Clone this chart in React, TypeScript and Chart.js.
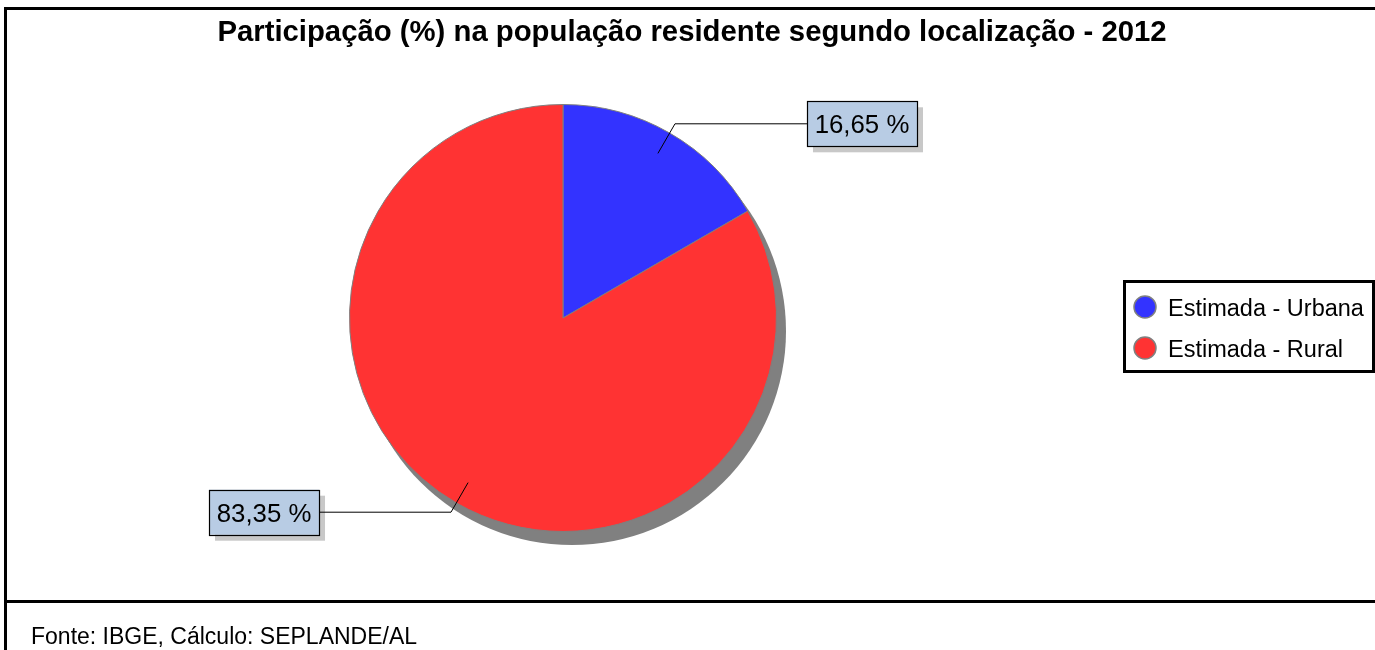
import React, { useEffect, useRef } from 'react';
import { Chart, registerables } from 'chart.js';

Chart.register(...registerables);

const TITLE = 'Participação (%) na população residente segundo localização - 2012';
const FOOTER = 'Fonte: IBGE, Cálculo: SEPLANDE/AL';
const categories = ['Estimada - Urbana', 'Estimada - Rural'];
const shares = [16.65, 83.35];
const valueLabels = ['16,65 %', '83,35 %'];
const sliceColors = ['#3333ff', '#ff3333'];

const W = 1375;
const H = 650;
const FONT = '"Liberation Sans", Arial, sans-serif';

const framePlugin = {
  id: 'frame',
  beforeDraw(chart: any) {
    const ctx = chart.ctx;
    ctx.save();
    ctx.fillStyle = '#ffffff';
    ctx.fillRect(0, 0, W, H);
    ctx.strokeStyle = '#000000';
    ctx.lineWidth = 3;
    ctx.beginPath();
    ctx.moveTo(4, 8.5);
    ctx.lineTo(W, 8.5);
    ctx.moveTo(5.5, 7);
    ctx.lineTo(5.5, H);
    ctx.moveTo(4, 601.5);
    ctx.lineTo(W, 601.5);
    ctx.stroke();

    ctx.fillStyle = '#000000';
    ctx.font = `bold 29.3px ${FONT}`;
    ctx.textAlign = 'center';
    ctx.textBaseline = 'alphabetic';
    ctx.fillText(TITLE, 692, 41);

    ctx.font = `23px ${FONT}`;
    ctx.textAlign = 'left';
    ctx.fillText(FOOTER, 31, 644);
    ctx.restore();
  },
};

const shadowPlugin = {
  id: 'pieShadow',
  beforeDatasetsDraw(chart: any) {
    const meta = chart.getDatasetMeta(0);
    const arc = meta.data[0];
    if (!arc) return;
    const ctx = chart.ctx;
    ctx.save();
    ctx.fillStyle = '#808080';
    ctx.beginPath();
    ctx.arc(arc.x + 9, arc.y + 13, arc.outerRadius + 0.5, 0, Math.PI * 2);
    ctx.fill();
    ctx.restore();
  },
};

const labelPlugin = {
  id: 'sliceLabels',
  afterDatasetsDraw(chart: any) {
    const meta = chart.getDatasetMeta(0);
    const ctx = chart.ctx;
    ctx.save();
    meta.data.forEach((arc: any, i: number) => {
      const mid = (arc.startAngle + arc.endAngle) / 2;
      const r = arc.outerRadius;
      const cx = arc.x;
      const cy = arc.y;
      const c = Math.cos(mid);
      const s = Math.sin(mid);
      const p1x = cx + c * r * 0.89;
      const p1y = cy + s * r * 0.89;
      const p2x = cx + c * r * 1.05;
      const p2y = cy + s * r * 1.05;
      const side = c >= 0 ? 1 : -1;
      const p3x = p2x + side * 132;
      const p3y = p2y;

      const bw = 110;
      const bh = 45;
      const bx = side > 0 ? p3x : p3x - bw;
      const by = p3y - bh / 2;
      ctx.fillStyle = '#c8c8c8';
      ctx.fillRect(bx + 6, by + 6, bw, bh);

      ctx.strokeStyle = '#000000';
      ctx.lineWidth = 1;
      ctx.beginPath();
      ctx.moveTo(p1x, p1y);
      ctx.lineTo(p2x, p2y);
      ctx.lineTo(p3x, p3y);
      ctx.stroke();

      ctx.fillStyle = '#b8cce4';
      ctx.fillRect(bx, by, bw, bh);
      ctx.strokeStyle = '#000000';
      ctx.lineWidth = 1.2;
      ctx.strokeRect(Math.round(bx) + 0.5, Math.round(by) + 0.5, bw, bh);

      ctx.fillStyle = '#000000';
      ctx.font = `25.8px ${FONT}`;
      ctx.textAlign = 'center';
      ctx.textBaseline = 'alphabetic';
      ctx.fillText(valueLabels[i], bx + bw / 2, by + bh / 2 + 9.5);
    });
    ctx.restore();
  },
};

const legendPlugin = {
  id: 'customLegend',
  afterDraw(chart: any) {
    const ctx = chart.ctx;
    ctx.save();
    ctx.fillStyle = '#ffffff';
    ctx.fillRect(1124, 281, 250, 91);
    ctx.strokeStyle = '#000000';
    ctx.lineWidth = 3;
    ctx.strokeRect(1124.5, 281.5, 249, 90);
    categories.forEach((label, i) => {
      const y = 307 + i * 41;
      ctx.beginPath();
      ctx.arc(1145, y, 11, 0, Math.PI * 2);
      ctx.fillStyle = sliceColors[i];
      ctx.fill();
      ctx.strokeStyle = '#808080';
      ctx.lineWidth = 1.5;
      ctx.stroke();
      ctx.fillStyle = '#000000';
      ctx.font = `23.5px ${FONT}`;
      ctx.textAlign = 'left';
      ctx.textBaseline = 'alphabetic';
      ctx.fillText(label, 1168, y + 8.5);
    });
    ctx.restore();
  },
};

export default function App() {
  const ref = useRef<HTMLCanvasElement | null>(null);
  useEffect(() => {
    if (!ref.current) return;
    const chart = new Chart(ref.current, {
      type: 'pie',
      data: {
        labels: categories,
        datasets: [
          {
            data: shares,
            backgroundColor: sliceColors,
            borderColor: '#7f7f7f',
            borderWidth: 1,
          },
        ],
      },
      options: {
        responsive: false,
        animation: false,
        layout: {
          padding: { left: 349, right: W - 777, top: 104, bottom: H - 532 },
        },
        plugins: {
          legend: { display: false },
          title: { display: false },
          tooltip: { enabled: false },
        },
      },
      plugins: [framePlugin, shadowPlugin, labelPlugin, legendPlugin],
    });
    return () => chart.destroy();
  }, []);
  return (
    <div style={{ position: 'absolute', left: 0, top: 0, width: W, height: H }}>
      <canvas ref={ref} width={W} height={H} style={{ display: 'block' }} />
    </div>
  );
}
